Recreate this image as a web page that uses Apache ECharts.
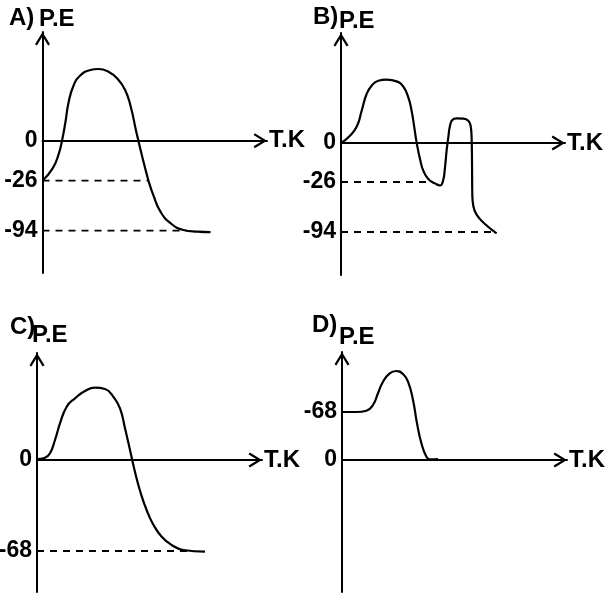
<!DOCTYPE html>
<html><head><meta charset="utf-8">
<script src="https://cdn.jsdelivr.net/npm/echarts@6/dist/echarts.min.js"></script>
<style>html,body{margin:0;padding:0;background:#fff}#c{width:606px;height:593px}</style>
</head><body><div id="c"></div>
<script>
// ---- texts ----
const panelLetters = ['A)', 'B)', 'C)', 'D)'];
const yName = 'P.E';
const xName = 'T.K';

// ---- energy levels: tick label text and their (schematic) height on the drawn axis ----
const levelLabelsA = ['0', '-26', '-94'];
const levelHeightsA = [0, -40, -90];
const levelLabelsB = ['0', '-26', '-94'];
const levelHeightsB = [0, -39, -89];
const levelLabelsC = ['0', '-68'];
const levelHeightsC = [0, -91];
const levelLabelsD = ['-68', '0'];
const levelHeightsD = [48, 0];

// dashed guide lines: [height, x where it stops]
const dashesA = [[-40, 106], [-90, 144]];
const dashesB = [[-39, 91], [-89, 156]];
const dashesC = [[-91, 155]];
const dashesD = [];

// ---- reaction-coordinate curves (schematic units) ----
const curveA = [[0,-40],[10,-28],[16,-14],[19.5,0],[23,19],[26,38],[31,55],[38,65.5],[47,70.5],[56,71.7],[66,69],[75,62],[82.5,51],[88,35],[94,8],[100,-17],[106,-40],[111,-55],[118,-71],[128,-82.5],[141,-89.3],[155,-91],[168,-91.5]];
const curveB = [[0,0],[9,7.3],[16,17],[20.6,32],[25.6,49],[30.6,57.3],[37.3,62.3],[45.6,63.3],[55.6,61.6],[62.3,56.3],[67.3,45.6],[70.6,32.3],[73.3,15.6],[75.6,0.6],[79,-16],[82.3,-27.7],[87.3,-36],[94,-40.4],[99,-42.5],[102,-38],[104,-24.4],[105.6,-7.7],[107.3,5.6],[109,17.3],[111.3,23],[115.6,24.6],[122.3,24.3],[127.3,22.3],[129.6,17.3],[130.6,5.6],[131,-17.7],[131.3,-51],[132.3,-62.7],[135.6,-71.7],[144,-81],[155.6,-90.4]];
const curveC = [[0,1],[8,2.3],[13,6.7],[18,20],[23,36.7],[29.7,53.3],[38,61.7],[48,69],[58,72.3],[68,71],[76.3,63.3],[83,51.7],[88,31.7],[93,10],[98,-12],[104,-34],[110,-51],[116,-64],[124.7,-76.7],[134.7,-85],[146.3,-90],[168,-91.7]];
const curveD = [[0,48],[14.4,48],[24.4,49.3],[31,55],[36,66.7],[41,78.3],[47.7,86.7],[54.4,89],[61,86],[66,78.3],[71,60],[75,36.7],[79.4,16.7],[84.4,3.3],[87.7,0.7],[96,1]];

// ---- layout (pixels) ----
const panels = [
  {grid:{left:42.5, top:32, width:224.5, height:241}, yMin:-132.3, yMax:108.7, labels:levelLabelsA, heights:levelHeightsA, dashes:dashesA, curve:curveA,
   letter:{x:9, y:18}, name:{x:39, y:19}},
  {grid:{left:341, top:33, width:224, height:242}, yMin:-132, yMax:110, labels:levelLabelsB, heights:levelHeightsB, dashes:dashesB, curve:curveB,
   letter:{x:313, y:17}, name:{x:339, y:21}},
  {grid:{left:37, top:353, width:225, height:239}, yMin:-132, yMax:107, labels:levelLabelsC, heights:levelHeightsC, dashes:dashesC, curve:curveC,
   letter:{x:10, y:327.5}, name:{x:32, y:335.5}},
  {grid:{left:342, top:352, width:225, height:240}, yMin:-132, yMax:108, labels:levelLabelsD, heights:levelHeightsD, dashes:dashesD, curve:curveD,
   letter:{x:312, y:325}, name:{x:339, y:337}}
];

const FONT = '"Liberation Sans", Arial, sans-serif';
const chevron = 'path://M7.5 0 L15 12.2 L13.1 13.4 L7.5 4.2 L1.9 13.4 L0 12.2 Z';
const axisLine = {show:true, onZero:true, lineStyle:{color:'#000', width:2},
  symbol:['none', chevron], symbolSize:[15, 13.4], symbolOffset:[0, -6.7]};

const option = {
  animation:false,
  backgroundColor:'#fff',
  grid: panels.map(p => Object.assign({outerBoundsMode:'none', containLabel:false}, p.grid)),
  xAxis: panels.map((p, i) => ({
    type:'value', gridIndex:i, min:0, max:p.grid.width,
    axisLine:axisLine, axisTick:{show:false}, axisLabel:{show:false}, splitLine:{show:false},
    name:xName, nameLocation:'end', nameGap:2, nameMoveOverlap:false,
    nameTextStyle:{color:'#000', fontSize:24, fontWeight:'bold', fontFamily:FONT, align:'left', verticalAlign:'middle'}
  })),
  yAxis: panels.map((p, i) => ({
    type:'value', gridIndex:i, min:p.yMin, max:p.yMax,
    axisLine:axisLine, axisTick:{show:false}, splitLine:{show:false},
    axisLabel:{show:true, customValues:p.heights, margin:5, color:'#000', fontSize:23, fontWeight:'bold', fontFamily:FONT,
      formatter: v => { const k = p.heights.indexOf(v); return k >= 0 ? p.labels[k] : ''; }}
  })),
  series: [],
  graphic: []
};

panels.forEach((p, i) => {
  option.series.push({type:'line', xAxisIndex:i, yAxisIndex:i, data:p.curve, smooth:0.5, symbol:'none',
    lineStyle:{color:'#000', width:2.2}, z:5});
  p.dashes.forEach(d => {
    option.series.push({type:'line', xAxisIndex:i, yAxisIndex:i, data:[[0, d[0]], [d[1], d[0]]], symbol:'none',
      lineStyle:{color:'#000', width:1.8, type:[7, 6]}, z:4});
  });
  option.graphic.push({type:'text', x:p.letter.x, y:p.letter.y, style:{text:panelLetters[i], fill:'#000', font:'bold 24px ' + FONT, align:'left', verticalAlign:'middle'}});
  option.graphic.push({type:'text', x:p.name.x, y:p.name.y, style:{text:yName, fill:'#000', font:'bold 24px ' + FONT, align:'left', verticalAlign:'middle'}});
});

const chart = echarts.init(document.getElementById('c'), null, {renderer:'canvas'});
chart.setOption(option);
</script></body></html>
